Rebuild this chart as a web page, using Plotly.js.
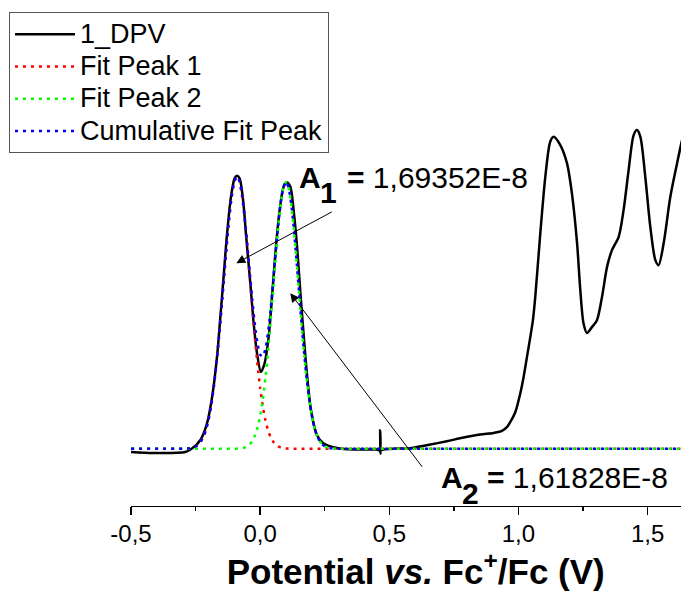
<!DOCTYPE html>
<html><head><meta charset="utf-8">
<script src="https://cdn.plot.ly/plotly-3.0.1.min.js"></script>
<style>html,body{margin:0;padding:0;background:#fff}#chart{width:681px;height:592px}</style>
</head><body><div id="chart"></div>
<script>
// Potential (V vs Fc+/Fc) and current (nA) of the measured DPV curve
const potentialDPV = [-0.5, -0.4125, -0.29, -0.264, -0.232, -0.206, -0.186, -0.167, -0.154, -0.1415, -0.128, -0.113, -0.099, -0.0896, -0.0796, -0.066, -0.054, -0.038, -0.025, -0.012, 0.003, 0.017, 0.033, 0.046, 0.059, 0.074, 0.091, 0.104, 0.117, 0.1295, 0.143, 0.155, 0.168, 0.181, 0.197, 0.22, 0.246, 0.2975, 0.362, 0.452, 0.4635, 0.4645, 0.4655, 0.4665, 0.53, 0.5685, 0.607, 0.659, 0.723, 0.788, 0.852, 0.904, 0.936, 0.956, 0.9685, 0.988, 1.007, 1.02, 1.033, 1.046, 1.056, 1.065, 1.0846, 1.104, 1.123, 1.136, 1.162, 1.188, 1.207, 1.227, 1.2395, 1.252, 1.265, 1.285, 1.304, 1.3235, 1.343, 1.362, 1.388, 1.407, 1.4265, 1.446, 1.459, 1.472, 1.491, 1.5105, 1.53, 1.5426, 1.562, 1.588, 1.614, 1.6305, 1.645];
const currentDPV = [-1.6, -2.1, -1.6, 0.1, 4.25, 12.6, 25.9, 45.9, 65.9, 85.9, 107.6, 125.9, 135.1, 136.4, 135.1, 124.25, 105.9, 82.6, 62.6, 47.6, 38.4, 42.6, 55.9, 75.9, 97.6, 117.6, 130.9, 133.1, 130.9, 119.25, 100.9, 79.25, 57.6, 37.6, 19.25, 6.75, 2.6, 0.4, -0.4, -0.4, -0.8, 9.25, -2.4, -0.8, 0.1, 0.1, 0.9, 2.1, 3.75, 5.6, 7.1, 7.9, 8.9, 10.9, 13.4, 18.4, 27.6, 35.9, 45.9, 55.9, 64.25, 75.75, 107.6, 135.9, 153.4, 155.9, 151.75, 142.6, 127.6, 102.6, 79.25, 62.6, 57.9, 60.9, 64.25, 75.9, 90.9, 99.25, 105.9, 119.25, 139.25, 156.75, 159.25, 155.9, 135.9, 110.9, 94.25, 91.75, 102.6, 125.9, 142.6, 152.6, 160];

// Fitted peaks, sampled values
const fitPotential = [-0.5, -0.31, -0.30, -0.29, -0.28, -0.27, -0.26, -0.25, -0.24, -0.23, -0.22, -0.21, -0.20, -0.19, -0.18, -0.17, -0.16, -0.15, -0.14, -0.13, -0.12, -0.11, -0.10, -0.09, -0.08, -0.07, -0.06, -0.05, -0.04, -0.03, -0.02, -0.01, 0.00, 0.01, 0.02, 0.03, 0.04, 0.05, 0.06, 0.07, 0.08, 0.09, 0.10, 0.11, 0.12, 0.13, 0.14, 0.15, 0.16, 0.17, 0.18, 0.19, 0.20, 0.21, 0.22, 0.23, 0.24, 0.25, 0.26, 0.27, 0.28, 0.29, 0.30, 0.31, 0.32, 1.65];
const fitPeak1 = [0, 0.02, 0.04, 0.08, 0.17, 0.34, 0.65, 1.20, 2.12, 3.63, 5.98, 9.49, 14.52, 21.40, 30.41, 41.65, 54.96, 69.89, 85.66, 101.17, 115.15, 126.30, 133.51, 136.00, 133.51, 126.30, 115.15, 101.17, 85.66, 69.89, 54.96, 41.65, 30.41, 21.40, 14.52, 9.49, 5.98, 3.63, 2.12, 1.20, 0.65, 0.34, 0.17, 0.08, 0.04, 0.02, 0.01, 0, 0, 0, 0, 0, 0, 0, 0, 0, 0, 0, 0, 0, 0, 0, 0, 0, 0, 0];
const fitPeak2 = [0, 0, 0, 0, 0, 0, 0, 0, 0, 0, 0, 0, 0, 0, 0, 0, 0, 0, 0, 0, 0.01, 0.01, 0.03, 0.07, 0.16, 0.32, 0.64, 1.23, 2.25, 3.95, 6.64, 10.72, 16.61, 24.67, 35.14, 48.03, 62.96, 79.17, 95.49, 110.48, 122.60, 130.50, 133.25, 130.50, 122.60, 110.48, 95.49, 79.17, 62.96, 48.03, 35.14, 24.67, 16.61, 10.72, 6.64, 3.95, 2.25, 1.23, 0.64, 0.32, 0.16, 0.07, 0.03, 0.01, 0.01, 0];
const cumulativeFit = [0, 0.02, 0.04, 0.08, 0.17, 0.34, 0.65, 1.20, 2.12, 3.63, 5.98, 9.49, 14.52, 21.40, 30.41, 41.65, 54.96, 69.89, 85.66, 101.17, 115.16, 126.31, 133.54, 136.07, 133.67, 126.62, 115.79, 102.40, 87.91, 73.84, 61.60, 52.37, 47.02, 46.07, 49.66, 57.52, 68.94, 82.80, 97.61, 111.68, 123.25, 130.84, 133.42, 130.58, 122.64, 110.50, 95.50, 79.17, 62.96, 48.03, 35.14, 24.67, 16.61, 10.72, 6.64, 3.95, 2.25, 1.23, 0.64, 0.32, 0.16, 0.07, 0.03, 0.01, 0.01, 0];

const seriesNames = ['1_DPV', 'Fit Peak 1', 'Fit Peak 2', 'Cumulative Fit Peak'];
const tickValues = [-0.5, 0, 0.5, 1.0, 1.5];
const tickLabels = ['-0,5', '0,0', '0,5', '1,0', '1,5'];
const areaLabels = ['1,69352E-8', '1,61828E-8'];

const FONT = 'Arial, "Liberation Sans", sans-serif';
const DOTS = '3px,5px';
const legendName = (s) => '<span style="font-size:27px">' + s + '</span>';

const traces = [
  {x: potentialDPV, y: currentDPV, name: legendName(seriesNames[0]), type: 'scatter', mode: 'lines',
   line: {color: '#000000', width: 2.5, shape: 'spline', smoothing: 0.8}},
  {x: fitPotential, y: fitPeak1, name: legendName(seriesNames[1]), type: 'scatter', mode: 'lines',
   line: {color: '#ff0000', width: 2.5, dash: DOTS, shape: 'spline', smoothing: 0.6}},
  {x: fitPotential, y: fitPeak2, name: legendName(seriesNames[2]), type: 'scatter', mode: 'lines',
   line: {color: '#00ff00', width: 2.5, dash: DOTS, shape: 'spline', smoothing: 0.6}},
  {x: fitPotential, y: cumulativeFit, name: legendName(seriesNames[3]), type: 'scatter', mode: 'lines',
   line: {color: '#0000ff', width: 2.5, dash: DOTS, shape: 'spline', smoothing: 0.6}}
];

const txt = (x, y, text) => ({xref: 'x', yref: 'y', x: x, y: y, text: text, showarrow: false,
  xanchor: 'left', yanchor: 'middle', font: {family: FONT, size: 30, color: '#000'}});
const arrow = (x, y, ax, ay) => ({xref: 'x', yref: 'y', axref: 'x', ayref: 'y', x: x, y: y, ax: ax, ay: ay,
  text: '', showarrow: true, arrowhead: 2, arrowsize: 1.8, arrowwidth: 1, arrowcolor: '#000', standoff: 0, startstandoff: 0});

const layout = {
  width: 681, height: 592,
  margin: {l: 131, r: 0, t: 0, b: 86, autoexpand: false},
  paper_bgcolor: '#ffffff', plot_bgcolor: '#ffffff',
  font: {family: FONT, color: '#000000'},
  showlegend: true,
  legend: {xref: 'container', yref: 'container', x: 9 / 681, y: 1 - 12 / 592, xanchor: 'left', yanchor: 'top',
    bgcolor: '#ffffff', bordercolor: '#555555', borderwidth: 1, itemwidth: 60,
    font: {family: FONT, size: 22.5, color: '#000'}, tracegroupgap: 0},
  xaxis: {
    range: [-0.5, 1.6293], showline: true, linecolor: '#000', linewidth: 1.4,
    ticks: 'outside', ticklen: 8, tickwidth: 1.4, tickcolor: '#000',
    tickmode: 'array', tickvals: tickValues, ticktext: tickLabels,
    tickfont: {family: FONT, size: 24, color: '#000'}, ticklabelstandoff: -2,
    minor: {tickmode: 'linear', tick0: -0.5, dtick: 0.25, ticks: 'outside', ticklen: 4, tickwidth: 1.4, tickcolor: '#000', showgrid: false},
    showgrid: false, zeroline: false, automargin: false,
    title: {text: '&nbsp;&nbsp;<b>Potential <i>vs.</i> Fc<sup>+</sup>/Fc (V)</b>', font: {family: FONT, size: 35, color: '#000'}, standoff: 0}
  },
  yaxis: {visible: false, range: [-28.6, 224.25], showgrid: false, zeroline: false},
  annotations: [
    txt(0.1438, 135.75, '<b>A</b>'),
    txt(0.2251, 128, '<b>1</b>'),
    txt(0.3297, 135.75, '<b>=</b> ' + areaLabels[0]),
    txt(0.6936, -14.25, '<b>A</b>'),
    txt(0.7749, -22.5, '<b>2</b>'),
    txt(0.8717, -14.25, '<b>=</b> ' + areaLabels[1]),
    arrow(-0.0923, 92.75, 0.2832, 118.75),
    arrow(0.1167, 77.75, 0.6316, -9.75)
  ]
};

Plotly.newPlot('chart', traces, layout, {staticPlot: true, displayModeBar: false});
</script>
</body></html>
